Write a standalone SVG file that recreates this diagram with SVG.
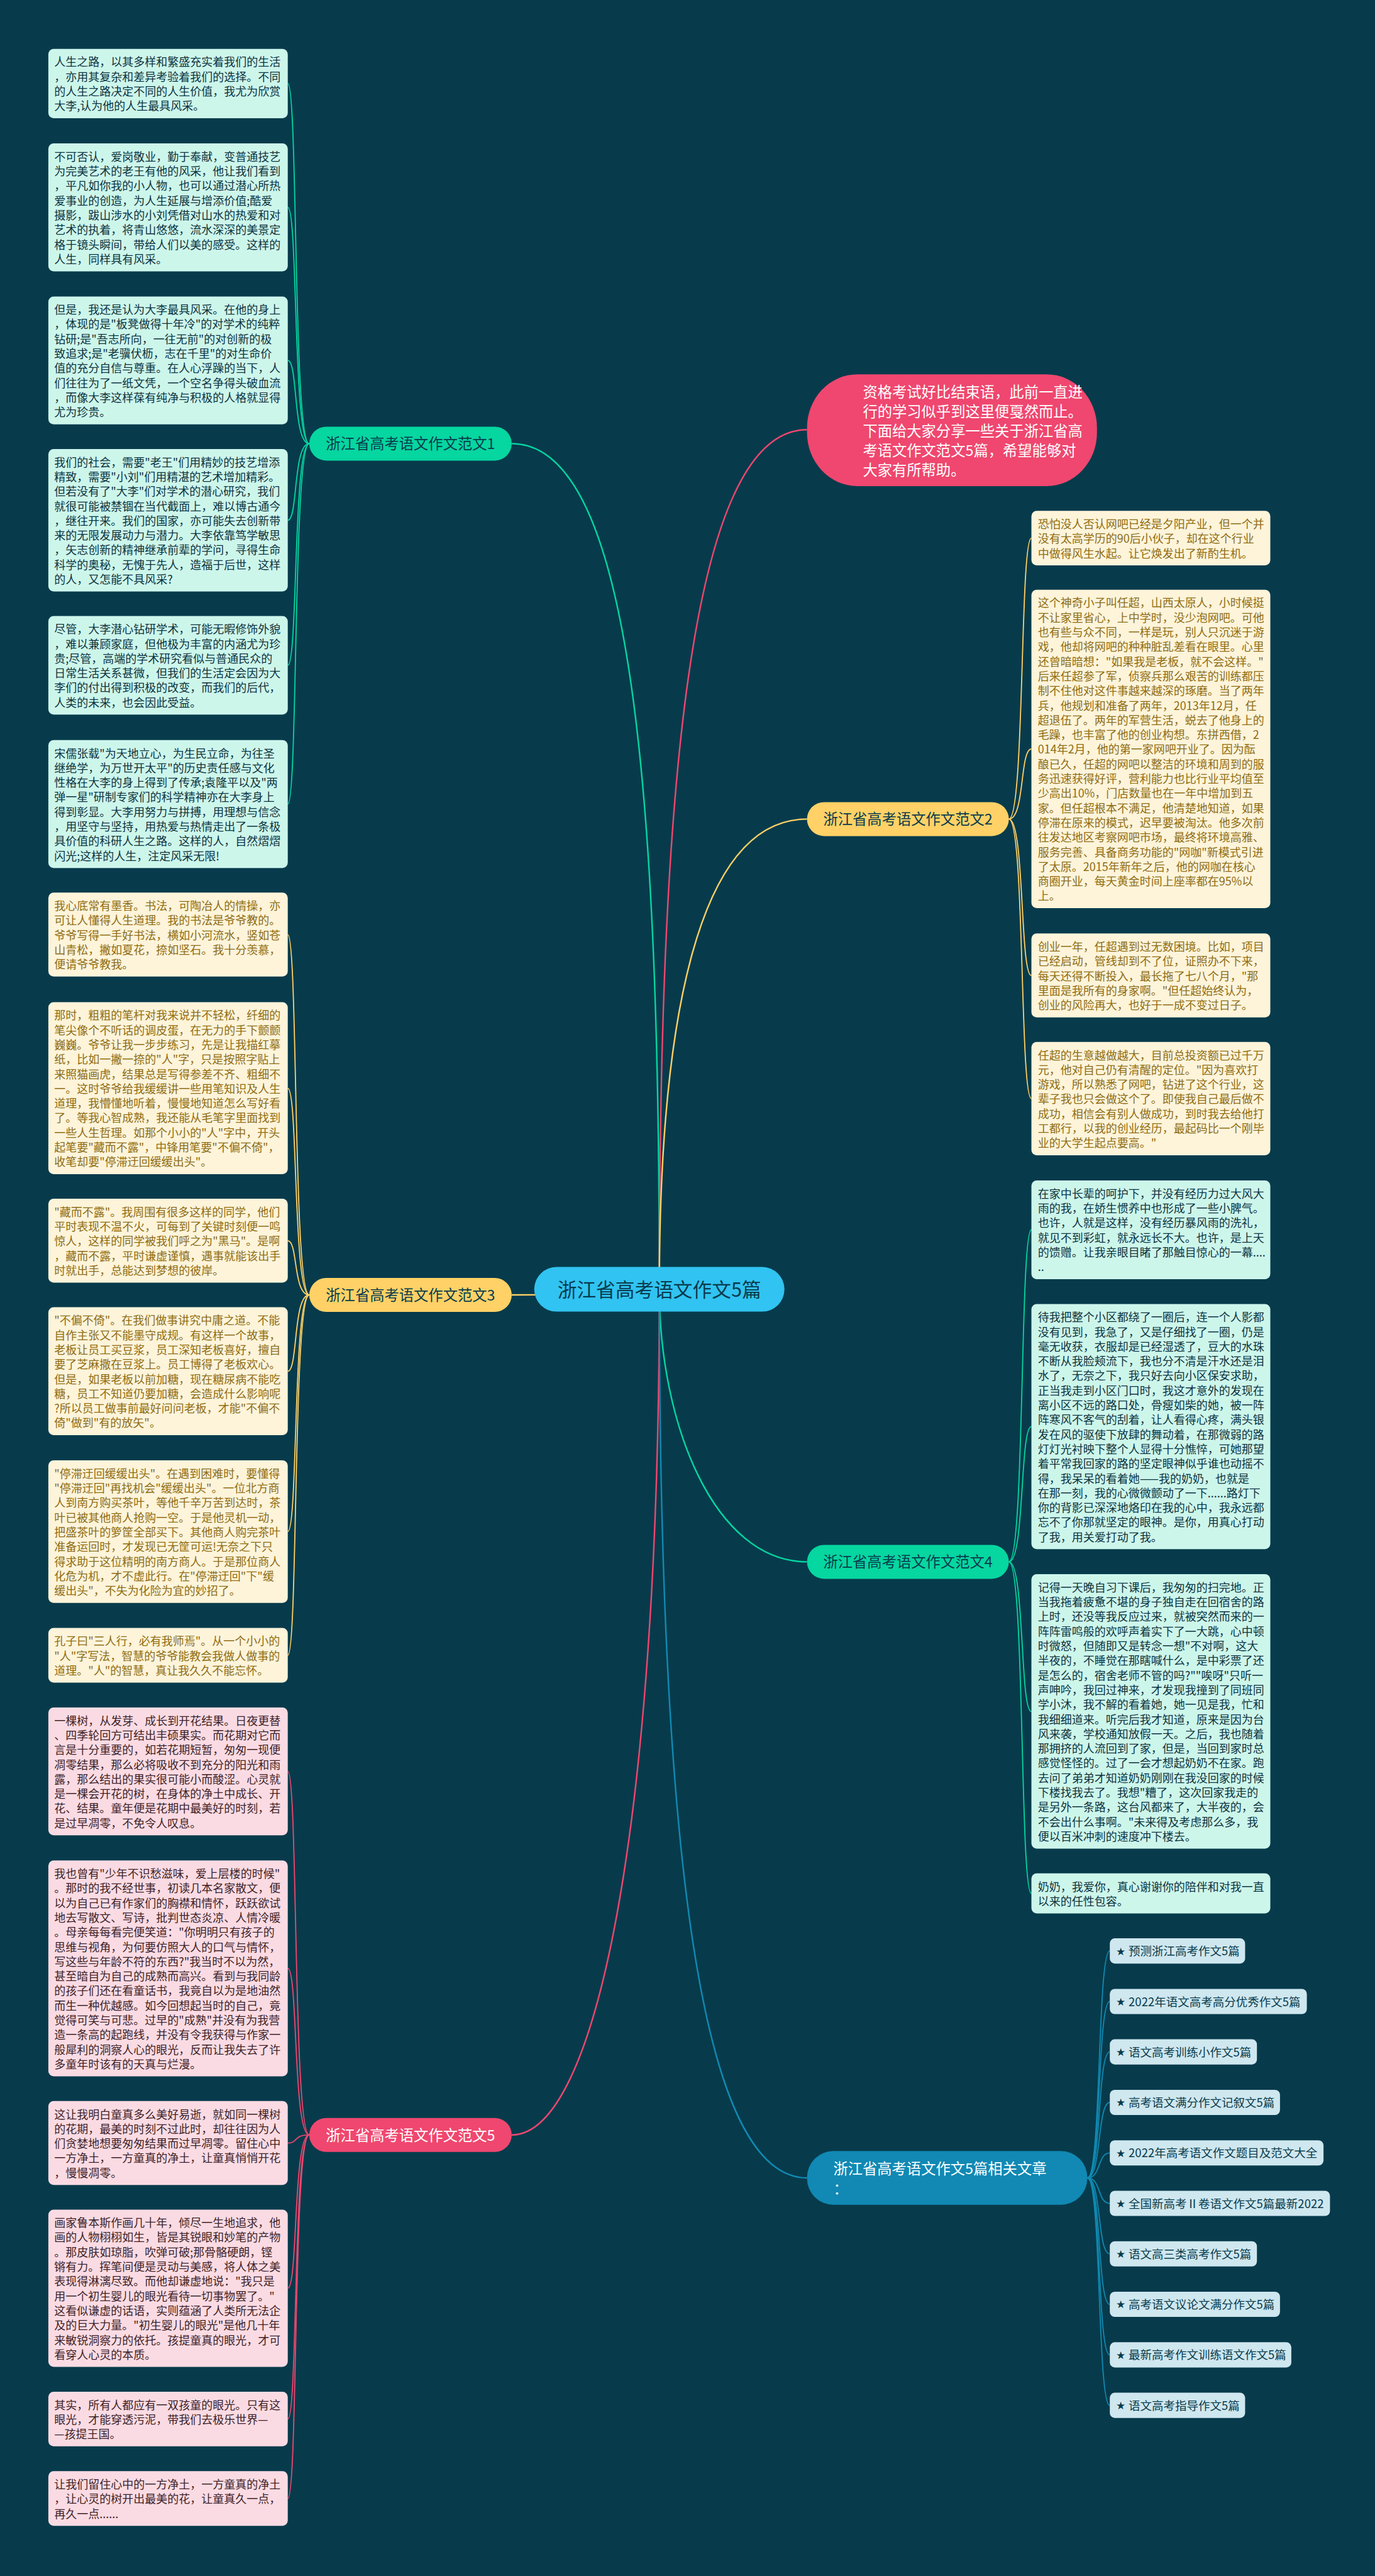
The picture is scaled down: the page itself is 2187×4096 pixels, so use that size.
<svg xmlns="http://www.w3.org/2000/svg" width="2187" height="4096" viewBox="0 0 2187 4096">
<style>
text{font-family:"Noto Sans CJK SC","Noto Sans",sans-serif;}
.bt{font-size:18px;}
.tg{fill:#0b3340;} .ty{fill:#8f6c12;} .tp{fill:#3d1f28;}
.bg{fill:#cdf6eb;} .by{fill:#fdf4da;} .bp{fill:#fbdbe3;} .bb{fill:#cfe7ef;}
.nt{font-size:23.3px;text-anchor:middle;}
.dark{fill:#073b4c;} .light{fill:#ffffff;}
.it{font-size:18.5px;fill:#073b4c;}
.st{font-family:"DejaVu Sans",sans-serif;font-size:17px;}
.cg{stroke:#06d6a0;} .cy{stroke:#ffd166;} .cp{stroke:#ef476f;} .cb{stroke:#118ab2;}
.main path{stroke-width:2.4;} .sub path{stroke-width:1.8;}
</style>
<rect x="0" y="0" width="2187" height="4096" fill="#073b4c"/>

<g id="connectors" fill="none">
 <g class="main">
  <path class="cg" d="M1048.7 2050 C1048.7 1281,1007.7 705.4,813.9 705.4"/>
  <path class="cp" d="M1048.7 2050 C1048.7 1281,1093.1 683.2,1283.6 683.2"/>
  <path class="cy" d="M1048.7 2050 C1048.7 1622.6,1110.2 1302.4,1283.6 1302.4"/>
  <path class="cy" d="M1048.7 2055 C950 2055,900 2059,813.9 2059"/>
  <path class="cg" d="M1048.7 2050 C1048.7 2263.1,1135.8 2483.4,1283.6 2483.4"/>
  <path class="cp" d="M1048.7 2050 C1048.7 2903.6,947.9 3394.7,813.9 3394.7"/>
  <path class="cb" d="M1048.7 2050 C1048.7 3074.4,1135.8 3463,1283.6 3463"/>
 </g>
 <g class="sub">
  <path class="cg" d="M491.9 705.4 C466 705.4,474 132.8,457.7 132.8"/>
  <path class="cg" d="M491.9 705.4 C466 705.4,474 329.7,457.7 329.7"/>
  <path class="cg" d="M491.9 705.4 C466 705.4,474 573.1,457.7 573.1"/>
  <path class="cg" d="M491.9 705.4 C466 705.4,474 827.3,457.7 827.3"/>
  <path class="cg" d="M491.9 705.4 C466 705.4,474 1057.9,457.7 1057.9"/>
  <path class="cg" d="M491.9 705.4 C466 705.4,474 1278.5,457.7 1278.5"/>
  <path class="cy" d="M491.9 2059 C466 2059,474 1486.1,457.7 1486.1"/>
  <path class="cy" d="M491.9 2059 C466 2059,474 1730.3,457.7 1730.3"/>
  <path class="cy" d="M491.9 2059 C466 2059,474 1972.9,457.7 1972.9"/>
  <path class="cy" d="M491.9 2059 C466 2059,474 2180.3,457.7 2180.3"/>
  <path class="cy" d="M491.9 2059 C466 2059,474 2435.4,457.7 2435.4"/>
  <path class="cy" d="M491.9 2059 C466 2059,474 2632,457.7 2632"/>
  <path class="cp" d="M491.9 3394.7 C466 3394.7,474 2816.6,457.7 2816.6"/>
  <path class="cp" d="M491.9 3394.7 C466 3394.7,474 3129.9,457.7 3129.9"/>
  <path class="cp" d="M491.9 3394.7 C466 3394.7,474 3407.6,457.7 3407.6"/>
  <path class="cp" d="M491.9 3394.7 C466 3394.7,474 3638.4,457.7 3638.4"/>
  <path class="cp" d="M491.9 3394.7 C466 3394.7,474 3846.4,457.7 3846.4"/>
  <path class="cp" d="M491.9 3394.7 C466 3394.7,474 3972.8,457.7 3972.8"/>
  <path class="cy" d="M1604.6 1302.4 C1630 1302.4,1622 855.7,1640.5 855.7"/>
  <path class="cy" d="M1604.6 1302.4 C1630 1302.4,1622 1190.9,1640.5 1190.9"/>
  <path class="cy" d="M1604.6 1302.4 C1630 1302.4,1622 1551.1,1640.5 1551.1"/>
  <path class="cy" d="M1604.6 1302.4 C1630 1302.4,1622 1746.9,1640.5 1746.9"/>
  <path class="cg" d="M1604.6 2483.4 C1630 2483.4,1622 1955.5,1640.5 1955.5"/>
  <path class="cg" d="M1604.6 2483.4 C1630 2483.4,1622 2268.4,1640.5 2268.4"/>
  <path class="cg" d="M1604.6 2483.4 C1630 2483.4,1622 2721.3,1640.5 2721.3"/>
  <path class="cg" d="M1604.6 2483.4 C1630 2483.4,1622 3010.6,1640.5 3010.6"/>
  <path class="cb" d="M1729.4 3463 C1752 3463,1745 3102.2,1765.2 3102.2"/>
  <path class="cb" d="M1729.4 3463 C1752 3463,1745 3182.5,1765.2 3182.5"/>
  <path class="cb" d="M1729.4 3463 C1752 3463,1745 3262.7,1765.2 3262.7"/>
  <path class="cb" d="M1729.4 3463 C1752 3463,1745 3343,1765.2 3343"/>
  <path class="cb" d="M1729.4 3463 C1752 3463,1745 3423.3,1765.2 3423.3"/>
  <path class="cb" d="M1729.4 3463 C1752 3463,1745 3503.6,1765.2 3503.6"/>
  <path class="cb" d="M1729.4 3463 C1752 3463,1745 3583.8,1765.2 3583.8"/>
  <path class="cb" d="M1729.4 3463 C1752 3463,1745 3664.1,1765.2 3664.1"/>
  <path class="cb" d="M1729.4 3463 C1752 3463,1745 3744.4,1765.2 3744.4"/>
  <path class="cb" d="M1729.4 3463 C1752 3463,1745 3824.7,1765.2 3824.7"/>
 </g>
</g>

<g id="center">
 <rect x="849.7" y="2014.6" width="398" height="71" rx="35.5" fill="#31c3f1"/>
 <text x="1048.7" y="2061.7" style="font-size:30.7px;text-anchor:middle" class="dark">浙江省高考语文作文5篇</text>
</g>

<g id="intro">
 <rect x="1283.6" y="595.2" width="461.2" height="177.7" rx="80" ry="85" fill="#ef476f"/>
 <text class="light" style="font-size:23.3px">
  <tspan x="1372.4" y="631.5">资格考试好比结束语，此前一直进</tspan>
  <tspan x="1372.4" y="662.5">行的学习似乎到这里便戛然而止。</tspan>
  <tspan x="1372.4" y="693.5">下面给大家分享一些关于浙江省高</tspan>
  <tspan x="1372.4" y="724.5">考语文作文范文5篇，希望能够对</tspan>
  <tspan x="1372.4" y="755.5">大家有所帮助。</tspan>
 </text>
</g>

<g id="node1">
 <rect x="491.9" y="678.4" width="322" height="54" rx="27" fill="#06d6a0"/>
 <text x="652.9" y="714.3" class="nt dark">浙江省高考语文作文范文1</text>
</g>
<g id="node2">
 <rect x="1283.6" y="1275.4" width="321" height="54" rx="27" fill="#ffd166"/>
 <text x="1444.1" y="1311.3" class="nt dark">浙江省高考语文作文范文2</text>
</g>
<g id="node3">
 <rect x="491.9" y="2032" width="322" height="54" rx="27" fill="#ffd166"/>
 <text x="652.9" y="2067.9" class="nt dark">浙江省高考语文作文范文3</text>
</g>
<g id="node4">
 <rect x="1283.6" y="2456.4" width="321" height="54" rx="27" fill="#06d6a0"/>
 <text x="1444.1" y="2492.3" class="nt dark">浙江省高考语文作文范文4</text>
</g>
<g id="node5">
 <rect x="491.9" y="3367.7" width="322" height="54" rx="27" fill="#ef476f"/>
 <text x="652.9" y="3403.6" class="nt light">浙江省高考语文作文范文5</text>
</g>
<g id="related">
 <rect x="1283.6" y="3420.3" width="445.8" height="85.4" rx="42" fill="#1189b4"/>
 <text class="light" style="font-size:23.3px">
  <tspan x="1325.4" y="3456.5">浙江省高考语文作文5篇相关文章</tspan>
  <tspan x="1325.4" y="3488.9">：</tspan>
 </text>
</g>

<g id="box-l1">
 <rect class="bg" x="76.9" y="77.7" width="380.8" height="110.2" rx="8.5"/>
 <text class="bt tg">
  <tspan x="86.3" y="105.4">人生之路，以其多样和繁盛充实着我们的生活</tspan>
  <tspan x="86.3" y="128.7">，亦用其复杂和差异考验着我们的选择。不同</tspan>
  <tspan x="86.3" y="152">的人生之路决定不同的人生价值，我尤为欣赏</tspan>
  <tspan x="86.3" y="175.3">大李,认为他的人生最具风采。</tspan>
 </text>
</g>
<g id="box-l2">
 <rect class="bg" x="76.9" y="228" width="380.8" height="203.4" rx="8.5"/>
 <text class="bt tg">
  <tspan x="86.3" y="255.7">不可否认，爱岗敬业，勤于奉献，变普通技艺</tspan>
  <tspan x="86.3" y="279">为完美艺术的老王有他的风采，他让我们看到</tspan>
  <tspan x="86.3" y="302.3">，平凡如你我的小人物，也可以通过潜心所热</tspan>
  <tspan x="86.3" y="325.6">爱事业的创造，为人生延展与增添价值;酷爱</tspan>
  <tspan x="86.3" y="348.9">摄影，跋山涉水的小刘凭借对山水的热爱和对</tspan>
  <tspan x="86.3" y="372.2">艺术的执着，将青山悠悠，流水深深的美景定</tspan>
  <tspan x="86.3" y="395.5">格于镜头瞬间，带给人们以美的感受。这样的</tspan>
  <tspan x="86.3" y="418.8">人生，同样具有风采。</tspan>
 </text>
</g>
<g id="box-l3">
 <rect class="bg" x="76.9" y="471.4" width="380.8" height="203.4" rx="8.5"/>
 <text class="bt tg">
  <tspan x="86.3" y="499.1">但是，我还是认为大李最具风采。在他的身上</tspan>
  <tspan x="86.3" y="522.4">，体现的是"板凳做得十年冷"的对学术的纯粹</tspan>
  <tspan x="86.3" y="545.7">钻研;是"吾志所向，一往无前"的对创新的极</tspan>
  <tspan x="86.3" y="569">致追求;是"老骥伏枥，志在千里"的对生命价</tspan>
  <tspan x="86.3" y="592.3">值的充分自信与尊重。在人心浮躁的当下，人</tspan>
  <tspan x="86.3" y="615.6">们往往为了一纸文凭，一个空名争得头破血流</tspan>
  <tspan x="86.3" y="638.9">，而像大李这样葆有纯净与积极的人格就显得</tspan>
  <tspan x="86.3" y="662.2">尤为珍贵。</tspan>
 </text>
</g>
<g id="box-l4">
 <rect class="bg" x="76.9" y="713.9" width="380.8" height="226.7" rx="8.5"/>
 <text class="bt tg">
  <tspan x="86.3" y="741.6">我们的社会，需要"老王"们用精妙的技艺增添</tspan>
  <tspan x="86.3" y="764.9">精致，需要"小刘"们用精湛的艺术增加精彩。</tspan>
  <tspan x="86.3" y="788.2">但若没有了"大李"们对学术的潜心研究，我们</tspan>
  <tspan x="86.3" y="811.5">就很可能被禁锢在当代截面上，难以博古通今</tspan>
  <tspan x="86.3" y="834.8">，继往开来。我们的国家，亦可能失去创新带</tspan>
  <tspan x="86.3" y="858.1">来的无限发展动力与潜力。大李依靠笃学敏思</tspan>
  <tspan x="86.3" y="881.4">，矢志创新的精神继承前辈的学问，寻得生命</tspan>
  <tspan x="86.3" y="904.7">科学的奥秘，无愧于先人，造福于后世，这样</tspan>
  <tspan x="86.3" y="928">的人，又怎能不具风采?</tspan>
 </text>
</g>
<g id="box-l5">
 <rect class="bg" x="76.9" y="979.5" width="380.8" height="156.8" rx="8.5"/>
 <text class="bt tg">
  <tspan x="86.3" y="1007.2">尽管，大李潜心钻研学术，可能无暇修饰外貌</tspan>
  <tspan x="86.3" y="1030.5">，难以兼顾家庭，但他极为丰富的内涵尤为珍</tspan>
  <tspan x="86.3" y="1053.8">贵;尽管，高端的学术研究看似与普通民众的</tspan>
  <tspan x="86.3" y="1077.1">日常生活关系甚微，但我们的生活定会因为大</tspan>
  <tspan x="86.3" y="1100.4">李们的付出得到积极的改变，而我们的后代，</tspan>
  <tspan x="86.3" y="1123.7">人类的未来，也会因此受益。</tspan>
 </text>
</g>
<g id="box-l6">
 <rect class="bg" x="76.9" y="1176.8" width="380.8" height="203.4" rx="8.5"/>
 <text class="bt tg">
  <tspan x="86.3" y="1204.5">宋儒张载"为天地立心，为生民立命，为往圣</tspan>
  <tspan x="86.3" y="1227.8">继绝学，为万世开太平"的历史责任感与文化</tspan>
  <tspan x="86.3" y="1251.1">性格在大李的身上得到了传承;袁隆平以及"两</tspan>
  <tspan x="86.3" y="1274.4">弹一星"研制专家们的科学精神亦在大李身上</tspan>
  <tspan x="86.3" y="1297.7">得到彰显。大李用努力与拼搏，用理想与信念</tspan>
  <tspan x="86.3" y="1321">，用坚守与坚持，用热爱与热情走出了一条极</tspan>
  <tspan x="86.3" y="1344.3">具价值的科研人生之路。这样的人，自然熠熠</tspan>
  <tspan x="86.3" y="1367.6">闪光;这样的人生，注定风采无限!</tspan>
 </text>
</g>

<g id="box-y1">
 <rect class="by" x="76.9" y="1419.3" width="380.8" height="133.5" rx="8.5"/>
 <text class="bt ty">
  <tspan x="86.3" y="1447">我心底常有墨香。书法，可陶冶人的情操，亦</tspan>
  <tspan x="86.3" y="1470.3">可让人懂得人生道理。我的书法是爷爷教的。</tspan>
  <tspan x="86.3" y="1493.6">爷爷写得一手好书法，横如小河流水，竖如苍</tspan>
  <tspan x="86.3" y="1516.9">山青松，撇如夏花，捺如坚石。我十分羡慕，</tspan>
  <tspan x="86.3" y="1540.2">便请爷爷教我。</tspan>
 </text>
</g>
<g id="box-y2">
 <rect class="by" x="76.9" y="1593.6" width="380.8" height="273.3" rx="8.5"/>
 <text class="bt ty">
  <tspan x="86.3" y="1621.3">那时，粗粗的笔杆对我来说并不轻松，纤细的</tspan>
  <tspan x="86.3" y="1644.6">笔尖像个不听话的调皮蛋，在无力的手下颤颤</tspan>
  <tspan x="86.3" y="1667.9">巍巍。爷爷让我一步步练习，先是让我描红摹</tspan>
  <tspan x="86.3" y="1691.2">纸，比如一撇一捺的"人"字，只是按照字贴上</tspan>
  <tspan x="86.3" y="1714.5">来照猫画虎，结果总是写得参差不齐、粗细不</tspan>
  <tspan x="86.3" y="1737.8">一。这时爷爷给我缓缓讲一些用笔知识及人生</tspan>
  <tspan x="86.3" y="1761.1">道理，我懵懂地听着，慢慢地知道怎么写好看</tspan>
  <tspan x="86.3" y="1784.4">了。等我心智成熟，我还能从毛笔字里面找到</tspan>
  <tspan x="86.3" y="1807.7">一些人生哲理。如那个小小的"人"字中，开头</tspan>
  <tspan x="86.3" y="1831">起笔要"藏而不露"，中锋用笔要"不偏不倚"，</tspan>
  <tspan x="86.3" y="1854.3">收笔却要"停滞迂回缓缓出头"。</tspan>
 </text>
</g>
<g id="box-y3">
 <rect class="by" x="76.9" y="1906.1" width="380.8" height="133.5" rx="8.5"/>
 <text class="bt ty">
  <tspan x="86.3" y="1933.8">"藏而不露"。我周围有很多这样的同学，他们</tspan>
  <tspan x="86.3" y="1957.1">平时表现不温不火，可每到了关键时刻便一鸣</tspan>
  <tspan x="86.3" y="1980.4">惊人，这样的同学被我们呼之为"黑马"。是啊</tspan>
  <tspan x="86.3" y="2003.7">，藏而不露，平时谦虚谨慎，遇事就能该出手</tspan>
  <tspan x="86.3" y="2027">时就出手，总能达到梦想的彼岸。</tspan>
 </text>
</g>
<g id="box-y4">
 <rect class="by" x="76.9" y="2078.6" width="380.8" height="203.4" rx="8.5"/>
 <text class="bt ty">
  <tspan x="86.3" y="2106.3">"不偏不倚"。在我们做事讲究中庸之道。不能</tspan>
  <tspan x="86.3" y="2129.6">自作主张又不能墨守成规。有这样一个故事，</tspan>
  <tspan x="86.3" y="2152.9">老板让员工买豆浆，员工深知老板喜好，擅自</tspan>
  <tspan x="86.3" y="2176.2">要了芝麻撒在豆浆上。员工博得了老板欢心。</tspan>
  <tspan x="86.3" y="2199.5">但是，如果老板以前加糖，现在糖尿病不能吃</tspan>
  <tspan x="86.3" y="2222.8">糖，员工不知道仍要加糖，会造成什么影响呢</tspan>
  <tspan x="86.3" y="2246.1">?所以员工做事前最好问问老板，才能"不偏不</tspan>
  <tspan x="86.3" y="2269.4">倚"做到"有的放矢"。</tspan>
 </text>
</g>
<g id="box-y5">
 <rect class="by" x="76.9" y="2322" width="380.8" height="226.7" rx="8.5"/>
 <text class="bt ty">
  <tspan x="86.3" y="2349.7">"停滞迂回缓缓出头"。在遇到困难时，要懂得</tspan>
  <tspan x="86.3" y="2373">"停滞迂回"再找机会"缓缓出头"。一位北方商</tspan>
  <tspan x="86.3" y="2396.3">人到南方购买茶叶，等他千辛万苦到达时，茶</tspan>
  <tspan x="86.3" y="2419.6">叶已被其他商人抢购一空。于是他灵机一动，</tspan>
  <tspan x="86.3" y="2442.9">把盛茶叶的箩筐全部买下。其他商人购完茶叶</tspan>
  <tspan x="86.3" y="2466.2">准备运回时，才发现已无筐可运!无奈之下只</tspan>
  <tspan x="86.3" y="2489.5">得求助于这位精明的南方商人。于是那位商人</tspan>
  <tspan x="86.3" y="2512.8">化危为机，才不虚此行。在"停滞迂回"下"缓</tspan>
  <tspan x="86.3" y="2536.1">缓出头"，不失为化险为宜的妙招了。</tspan>
 </text>
</g>
<g id="box-y6">
 <rect class="by" x="76.9" y="2588.5" width="380.8" height="86.9" rx="8.5"/>
 <text class="bt ty">
  <tspan x="86.3" y="2616.2">孔子曰"三人行，必有我师焉"。从一个小小的</tspan>
  <tspan x="86.3" y="2639.5">"人"字写法，智慧的爷爷能教会我做人做事的</tspan>
  <tspan x="86.3" y="2662.8">道理。"人"的智慧，真让我久久不能忘怀。</tspan>
 </text>
</g>

<g id="box-p1">
 <rect class="bp" x="76.9" y="2714.9" width="380.8" height="203.4" rx="8.5"/>
 <text class="bt tp">
  <tspan x="86.3" y="2742.6">一棵树，从发芽、成长到开花结果。日夜更替</tspan>
  <tspan x="86.3" y="2765.9">、四季轮回方可结出丰硕果实。而花期对它而</tspan>
  <tspan x="86.3" y="2789.2">言是十分重要的，如若花期短暂，匆匆一现便</tspan>
  <tspan x="86.3" y="2812.5">凋零结果，那么必将吸收不到充分的阳光和雨</tspan>
  <tspan x="86.3" y="2835.8">露，那么结出的果实很可能小而酸涩。心灵就</tspan>
  <tspan x="86.3" y="2859.1">是一棵会开花的树，在身体的净土中成长、开</tspan>
  <tspan x="86.3" y="2882.4">花、结果。童年便是花期中最美好的时刻，若</tspan>
  <tspan x="86.3" y="2905.7">是过早凋零，不免令人叹息。</tspan>
 </text>
</g>
<g id="box-p2">
 <rect class="bp" x="76.9" y="2958.3" width="380.8" height="343.2" rx="8.5"/>
 <text class="bt tp">
  <tspan x="86.3" y="2986">我也曾有"少年不识愁滋味，爱上层楼的时候"</tspan>
  <tspan x="86.3" y="3009.3">。那时的我不经世事，初读几本名家散文，便</tspan>
  <tspan x="86.3" y="3032.6">以为自己已有作家们的胸襟和情怀，跃跃欲试</tspan>
  <tspan x="86.3" y="3055.9">地去写散文、写诗，批判世态炎凉、人情冷暖</tspan>
  <tspan x="86.3" y="3079.2">。母亲每每看完便笑道："你明明只有孩子的</tspan>
  <tspan x="86.3" y="3102.5">思维与视角，为何要仿照大人的口气与情怀，</tspan>
  <tspan x="86.3" y="3125.8">写这些与年龄不符的东西?"我当时不以为然，</tspan>
  <tspan x="86.3" y="3149.1">甚至暗自为自己的成熟而高兴。看到与我同龄</tspan>
  <tspan x="86.3" y="3172.4">的孩子们还在看童话书，我竟自以为是地油然</tspan>
  <tspan x="86.3" y="3195.7">而生一种优越感。如今回想起当时的自己，竟</tspan>
  <tspan x="86.3" y="3219">觉得可笑与可悲。过早的"成熟"并没有为我营</tspan>
  <tspan x="86.3" y="3242.3">造一条高的起跑线，并没有令我获得与作家一</tspan>
  <tspan x="86.3" y="3265.6">般犀利的洞察人心的眼光，反而让我失去了许</tspan>
  <tspan x="86.3" y="3288.9">多童年时该有的天真与烂漫。</tspan>
 </text>
</g>
<g id="box-p3">
 <rect class="bp" x="76.9" y="3340.8" width="380.8" height="133.5" rx="8.5"/>
 <text class="bt tp">
  <tspan x="86.3" y="3368.5">这让我明白童真多么美好易逝，就如同一棵树</tspan>
  <tspan x="86.3" y="3391.8">的花期，最美的时刻不过此时，却往往因为人</tspan>
  <tspan x="86.3" y="3415.1">们贪婪地想要匆匆结果而过早凋零。留住心中</tspan>
  <tspan x="86.3" y="3438.4">一方净土，一方童真的净土，让童真悄悄开花</tspan>
  <tspan x="86.3" y="3461.7">，慢慢凋零。</tspan>
 </text>
</g>
<g id="box-p4">
 <rect class="bp" x="76.9" y="3513.4" width="380.8" height="250" rx="8.5"/>
 <text class="bt tp">
  <tspan x="86.3" y="3541.1">画家鲁本斯作画几十年，倾尽一生地追求，他</tspan>
  <tspan x="86.3" y="3564.4">画的人物栩栩如生，皆是其锐眼和妙笔的产物</tspan>
  <tspan x="86.3" y="3587.7">。那皮肤如琼脂，吹弹可破;那骨骼硬朗，铿</tspan>
  <tspan x="86.3" y="3611">锵有力。挥笔间便是灵动与美感，将人体之美</tspan>
  <tspan x="86.3" y="3634.3">表现得淋漓尽致。而他却谦虚地说："我只是</tspan>
  <tspan x="86.3" y="3657.6">用一个初生婴儿的眼光看待一切事物罢了。"</tspan>
  <tspan x="86.3" y="3680.9">这看似谦虚的话语，实则蕴涵了人类所无法企</tspan>
  <tspan x="86.3" y="3704.2">及的巨大力量。"初生婴儿的眼光"是他几十年</tspan>
  <tspan x="86.3" y="3727.5">来敏锐洞察力的依托。孩提童真的眼光，才可</tspan>
  <tspan x="86.3" y="3750.8">看穿人心灵的本质。</tspan>
 </text>
</g>
<g id="box-p5">
 <rect class="bp" x="76.9" y="3802.9" width="380.8" height="86.9" rx="8.5"/>
 <text class="bt tp">
  <tspan x="86.3" y="3830.6">其实，所有人都应有一双孩童的眼光。只有这</tspan>
  <tspan x="86.3" y="3853.9">眼光，才能穿透污泥，带我们去极乐世界—</tspan>
  <tspan x="86.3" y="3877.2">—孩提王国。</tspan>
 </text>
</g>
<g id="box-p6">
 <rect class="bp" x="76.9" y="3929.3" width="380.8" height="86.9" rx="8.5"/>
 <text class="bt tp">
  <tspan x="86.3" y="3957">让我们留住心中的一方净土，一方童真的净土</tspan>
  <tspan x="86.3" y="3980.3">，让心灵的树开出最美的花，让童真久一点，</tspan>
  <tspan x="86.3" y="4003.6">再久一点......</tspan>
 </text>
</g>

<g id="box-r1">
 <rect class="by" x="1640.5" y="812.2" width="380" height="86.9" rx="8.5"/>
 <text class="bt ty">
  <tspan x="1650.8" y="839.9">恐怕没人否认网吧已经是夕阳产业，但一个并</tspan>
  <tspan x="1650.8" y="863.2">没有太高学历的90后小伙子，却在这个行业</tspan>
  <tspan x="1650.8" y="886.5">中做得风生水起。让它焕发出了新酌生机。</tspan>
 </text>
</g>
<g id="box-r2">
 <rect class="by" x="1640.5" y="937.7" width="380" height="506.3" rx="8.5"/>
 <text class="bt ty">
  <tspan x="1650.8" y="965.4">这个神奇小子叫任超，山西太原人，小时候挺</tspan>
  <tspan x="1650.8" y="988.7">不让家里省心，上中学时，没少泡网吧。可他</tspan>
  <tspan x="1650.8" y="1012">也有些与众不同，一样是玩，别人只沉迷于游</tspan>
  <tspan x="1650.8" y="1035.3">戏，他却将网吧的种种脏乱差看在眼里。心里</tspan>
  <tspan x="1650.8" y="1058.6">还曾暗暗想："如果我是老板，就不会这样。"</tspan>
  <tspan x="1650.8" y="1081.9">后来任超参了军，侦察兵那么艰苦的训练都压</tspan>
  <tspan x="1650.8" y="1105.2">制不住他对这件事越来越深的琢磨。当了两年</tspan>
  <tspan x="1650.8" y="1128.5">兵，他规划和准备了两年，2013年12月，任</tspan>
  <tspan x="1650.8" y="1151.8">超退伍了。两年的军营生活，蜕去了他身上的</tspan>
  <tspan x="1650.8" y="1175.1">毛躁，也丰富了他的创业构想。东拼西借，2</tspan>
  <tspan x="1650.8" y="1198.4">014年2月，他的第一家网吧开业了。因为酝</tspan>
  <tspan x="1650.8" y="1221.7">酿已久，任超的网吧以整洁的环境和周到的服</tspan>
  <tspan x="1650.8" y="1245">务迅速获得好评，营利能力也比行业平均值至</tspan>
  <tspan x="1650.8" y="1268.3">少高出10%，门店数量也在一年中增加到五</tspan>
  <tspan x="1650.8" y="1291.6">家。但任超根本不满足，他清楚地知道，如果</tspan>
  <tspan x="1650.8" y="1314.9">停滞在原来的模式，迟早要被淘汰。他多次前</tspan>
  <tspan x="1650.8" y="1338.2">往发达地区考察网吧市场，最终将环境高雅、</tspan>
  <tspan x="1650.8" y="1361.5">服务完善、具备商务功能的"网咖"新模式引进</tspan>
  <tspan x="1650.8" y="1384.8">了太原。2015年新年之后，他的网咖在核心</tspan>
  <tspan x="1650.8" y="1408.1">商圈开业，每天黄金时间上座率都在95%以</tspan>
  <tspan x="1650.8" y="1431.4">上。</tspan>
 </text>
</g>
<g id="box-r3">
 <rect class="by" x="1640.5" y="1484.3" width="380" height="133.5" rx="8.5"/>
 <text class="bt ty">
  <tspan x="1650.8" y="1512">创业一年，任超遇到过无数困境。比如，项目</tspan>
  <tspan x="1650.8" y="1535.3">已经启动，管线却到不了位，证照办不下来，</tspan>
  <tspan x="1650.8" y="1558.6">每天还得不断投入，最长拖了七八个月，"那</tspan>
  <tspan x="1650.8" y="1581.9">里面是我所有的身家啊。"但任超始终认为，</tspan>
  <tspan x="1650.8" y="1605.2">创业的风险再大，也好于一成不变过日子。</tspan>
 </text>
</g>
<g id="box-r4">
 <rect class="by" x="1640.5" y="1656.8" width="380" height="180.1" rx="8.5"/>
 <text class="bt ty">
  <tspan x="1650.8" y="1684.5">任超的生意越做越大，目前总投资额已过千万</tspan>
  <tspan x="1650.8" y="1707.8">元，他对自己仍有清醒的定位。"因为喜欢打</tspan>
  <tspan x="1650.8" y="1731.1">游戏，所以熟悉了网吧，钻进了这个行业，这</tspan>
  <tspan x="1650.8" y="1754.4">辈子我也只会做这个了。即使我自己最后做不</tspan>
  <tspan x="1650.8" y="1777.7">成功，相信会有别人做成功，到时我去给他打</tspan>
  <tspan x="1650.8" y="1801">工都行，以我的创业经历，最起码比一个刚毕</tspan>
  <tspan x="1650.8" y="1824.3">业的大学生起点要高。"</tspan>
 </text>
</g>

<g id="box-g1">
 <rect class="bg" x="1640.5" y="1877.1" width="380" height="156.8" rx="8.5"/>
 <text class="bt tg">
  <tspan x="1650.8" y="1904.8">在家中长辈的呵护下，并没有经历力过大风大</tspan>
  <tspan x="1650.8" y="1928.1">雨的我，在娇生惯养中也形成了一些小脾气。</tspan>
  <tspan x="1650.8" y="1951.4">也许，人就是这样，没有经历暴风雨的洗礼，</tspan>
  <tspan x="1650.8" y="1974.7">就见不到彩虹，就永远长不大。也许，是上天</tspan>
  <tspan x="1650.8" y="1998">的馈赠。让我亲眼目睹了那触目惊心的一幕....</tspan>
  <tspan x="1650.8" y="2021.3">..</tspan>
 </text>
</g>
<g id="box-g2">
 <rect class="bg" x="1640.5" y="2073.5" width="380" height="389.8" rx="8.5"/>
 <text class="bt tg">
  <tspan x="1650.8" y="2101.2">待我把整个小区都绕了一圈后，连一个人影都</tspan>
  <tspan x="1650.8" y="2124.5">没有见到，我急了，又是仔细找了一圈，仍是</tspan>
  <tspan x="1650.8" y="2147.8">毫无收获，衣服却是已经湿透了，豆大的水珠</tspan>
  <tspan x="1650.8" y="2171.1">不断从我脸颊流下，我也分不清是汗水还是泪</tspan>
  <tspan x="1650.8" y="2194.4">水了，无奈之下，我只好去向小区保安求助，</tspan>
  <tspan x="1650.8" y="2217.7">正当我走到小区门口时，我这才意外的发现在</tspan>
  <tspan x="1650.8" y="2241">离小区不远的路口处，骨瘦如柴的她，被一阵</tspan>
  <tspan x="1650.8" y="2264.3">阵寒风不客气的刮着，让人看得心疼，满头银</tspan>
  <tspan x="1650.8" y="2287.6">发在风的驱使下放肆的舞动着，在那微弱的路</tspan>
  <tspan x="1650.8" y="2310.9">灯灯光衬映下整个人显得十分憔悴，可她那望</tspan>
  <tspan x="1650.8" y="2334.2">着平常我回家的路的坚定眼神似乎谁也动摇不</tspan>
  <tspan x="1650.8" y="2357.5">得，我呆呆的看着她——我的奶奶，也就是</tspan>
  <tspan x="1650.8" y="2380.8">在那一刻，我的心微微颤动了一下......路灯下</tspan>
  <tspan x="1650.8" y="2404.1">你的背影已深深地烙印在我的心中，我永远都</tspan>
  <tspan x="1650.8" y="2427.4">忘不了你那就坚定的眼神。是你，用真心打动</tspan>
  <tspan x="1650.8" y="2450.7">了我，用关爱打动了我。</tspan>
 </text>
</g>
<g id="box-g3">
 <rect class="bg" x="1640.5" y="2503.1" width="380" height="436.4" rx="8.5"/>
 <text class="bt tg">
  <tspan x="1650.8" y="2530.8">记得一天晚自习下课后，我匆匆的扫完地。正</tspan>
  <tspan x="1650.8" y="2554.1">当我拖着疲惫不堪的身子独自走在回宿舍的路</tspan>
  <tspan x="1650.8" y="2577.4">上时，还没等我反应过来，就被突然而来的一</tspan>
  <tspan x="1650.8" y="2600.7">阵阵雷鸣般的欢呼声着实下了一大跳，心中顿</tspan>
  <tspan x="1650.8" y="2624">时微怒，但随即又是转念一想"不对啊，这大</tspan>
  <tspan x="1650.8" y="2647.3">半夜的，不睡觉在那瞎喊什么，是中彩票了还</tspan>
  <tspan x="1650.8" y="2670.6">是怎么的，宿舍老师不管的吗?""唉呀"只听一</tspan>
  <tspan x="1650.8" y="2693.9">声呻吟，我回过神来，才发现我撞到了同班同</tspan>
  <tspan x="1650.8" y="2717.2">学小沐，我不解的看着她，她一见是我，忙和</tspan>
  <tspan x="1650.8" y="2740.5">我细细道来。听完后我才知道，原来是因为台</tspan>
  <tspan x="1650.8" y="2763.8">风来袭，学校通知放假一天。之后，我也随着</tspan>
  <tspan x="1650.8" y="2787.1">那拥挤的人流回到了家，但是，当回到家时总</tspan>
  <tspan x="1650.8" y="2810.4">感觉怪怪的。过了一会才想起奶奶不在家。跑</tspan>
  <tspan x="1650.8" y="2833.7">去问了弟弟才知道奶奶刚刚在我没回家的时候</tspan>
  <tspan x="1650.8" y="2857">下楼找我去了。我想"糟了，这次回家我走的</tspan>
  <tspan x="1650.8" y="2880.3">是另外一条路，这台风都来了，大半夜的，会</tspan>
  <tspan x="1650.8" y="2903.6">不会出什么事啊。"未来得及考虑那么多，我</tspan>
  <tspan x="1650.8" y="2926.9">便以百米冲刺的速度冲下楼去。</tspan>
 </text>
</g>
<g id="box-g4">
 <rect class="bg" x="1640.5" y="2978.8" width="380" height="63.6" rx="8.5"/>
 <text class="bt tg">
  <tspan x="1650.8" y="3006.5">奶奶，我爱你，真心谢谢你的陪伴和对我一直</tspan>
  <tspan x="1650.8" y="3029.8">以来的任性包容。</tspan>
 </text>
</g>

<g id="rel-1"><rect class="bb" x="1765.2" y="3082.1" width="215.2" height="40.1" rx="8"/><text class="it"><tspan class="st" x="1775" y="3108.5">★ </tspan><tspan x="1795.1" y="3109.2">预测浙江高考作文5篇</tspan></text></g>
<g id="rel-2"><rect class="bb" x="1765.2" y="3162.4" width="313.4" height="40.1" rx="8"/><text class="it"><tspan class="st" x="1775" y="3188.8">★ </tspan><tspan x="1795.1" y="3189.5">2022年语文高考高分优秀作文5篇</tspan></text></g>
<g id="rel-3"><rect class="bb" x="1765.2" y="3242.6" width="234" height="40.1" rx="8"/><text class="it"><tspan class="st" x="1775" y="3269">★ </tspan><tspan x="1795.1" y="3269.7">语文高考训练小作文5篇</tspan></text></g>
<g id="rel-4"><rect class="bb" x="1765.2" y="3322.9" width="270.7" height="40.1" rx="8"/><text class="it"><tspan class="st" x="1775" y="3349.3">★ </tspan><tspan x="1795.1" y="3350">高考语文满分作文记叙文5篇</tspan></text></g>
<g id="rel-5"><rect class="bb" x="1765.2" y="3403.2" width="339.9" height="40.1" rx="8"/><text class="it"><tspan class="st" x="1775" y="3429.6">★ </tspan><tspan x="1795.1" y="3430.3">2022年高考语文作文题目及范文大全</tspan></text></g>
<g id="rel-6"><rect class="bb" x="1765.2" y="3483.5" width="350.2" height="40.1" rx="8"/><text class="it"><tspan class="st" x="1775" y="3509.9">★ </tspan><tspan x="1795.1" y="3510.6">全国新高考Ⅱ卷语文作文5篇最新2022</tspan></text></g>
<g id="rel-7"><rect class="bb" x="1765.2" y="3563.7" width="234" height="40.1" rx="8"/><text class="it"><tspan class="st" x="1775" y="3590.1">★ </tspan><tspan x="1795.1" y="3590.8">语文高三类高考作文5篇</tspan></text></g>
<g id="rel-8"><rect class="bb" x="1765.2" y="3644" width="270.7" height="40.1" rx="8"/><text class="it"><tspan class="st" x="1775" y="3670.4">★ </tspan><tspan x="1795.1" y="3671.1">高考语文议论文满分作文5篇</tspan></text></g>
<g id="rel-9"><rect class="bb" x="1765.2" y="3724.3" width="288.7" height="40.1" rx="8"/><text class="it"><tspan class="st" x="1775" y="3750.7">★ </tspan><tspan x="1795.1" y="3751.4">最新高考作文训练语文作文5篇</tspan></text></g>
<g id="rel-10"><rect class="bb" x="1765.2" y="3804.6" width="215.2" height="40.1" rx="8"/><text class="it"><tspan class="st" x="1775" y="3831">★ </tspan><tspan x="1795.1" y="3831.7">语文高考指导作文5篇</tspan></text></g>
</svg>
